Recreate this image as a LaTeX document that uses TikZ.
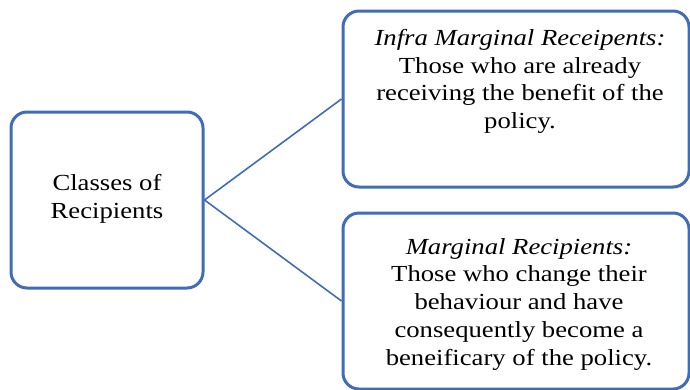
\documentclass[tikz,border=0pt]{standalone}
\usepackage{fontspec}
\setmainfont{Liberation Serif}[FakeStretch=1.16]
\definecolor{boxblue}{RGB}{65,108,184}
\begin{document}
\begin{tikzpicture}[x=1pt,y=-1pt,
  box/.style={draw=boxblue, line width=3pt, rounded corners=16pt, fill=white, inner sep=0pt},
  txt/.style={font=\fontsize{23}{27.8}\selectfont, align=center, inner sep=0pt},
  link/.style={draw=boxblue, line width=1.6pt}]
\useasboundingbox (0,0) rectangle (690,389);
\node[box, minimum width=192pt, minimum height=176pt] (src) at (107,200) {};
\node[box, minimum width=346pt, minimum height=176pt] (top) at (516,99) {};
\node[box, minimum width=346pt, minimum height=176pt] (bot) at (516,301) {};
\draw[link] (src.east) -- (top.west);
\draw[link] (src.east) -- (bot.west);
\node[txt] (srct) at (107,199) {Classes of\\Recipients};
\node[txt, anchor=north] (topt) at (520,29) {\textit{Infra Marginal Receipents:}\\Those who are already\\receiving the benefit of the\\policy.};
\node[txt, anchor=north] (bott) at (519,238) {\textit{Marginal Recipients:}\\Those who change their\\behaviour and have\\consequently become a\\beneificary of the policy.};
\end{tikzpicture}
\end{document}
